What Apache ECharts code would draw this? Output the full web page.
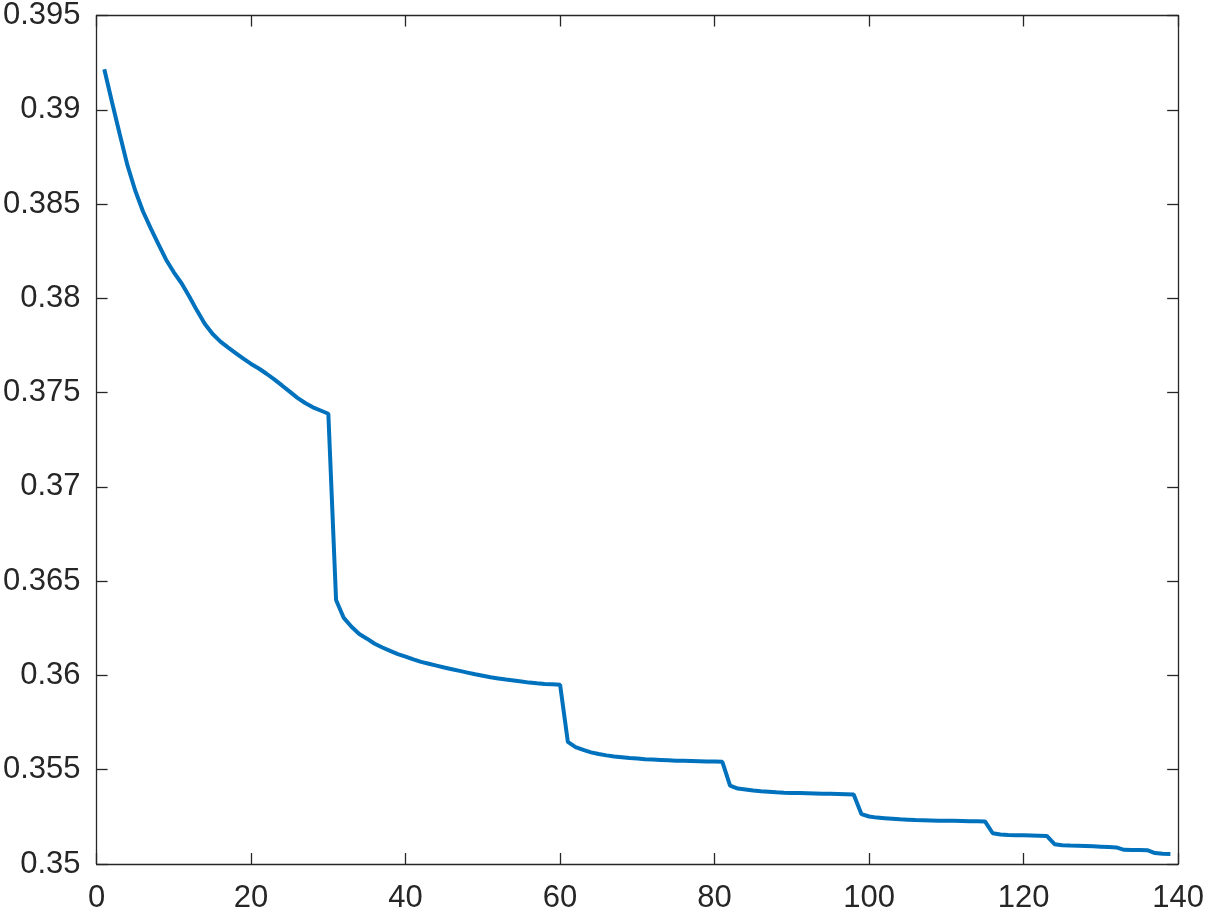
<!DOCTYPE html>
<html>
<head>
<meta charset="utf-8">
<script src="https://cdn.jsdelivr.net/npm/echarts@6/dist/echarts.min.js"></script>
<style>
html,body{margin:0;padding:0;background:#fff;}
#chart{width:1207px;height:914px;}
</style>
</head>
<body>
<div id="chart"></div>
<script>
// Iteration index (x values)
const xValues = [
  1,2,3,4,5,6,7,8,9,10,
  11,12,13,14,15,16,17,18,19,20,
  21,22,23,24,25,26,27,28,29,30,
  31,32,33,34,35,36,37,38,39,40,
  41,42,43,44,45,46,47,48,49,50,
  51,52,53,54,55,56,57,58,59,60,
  61,62,63,64,65,66,67,68,69,70,
  71,72,73,74,75,76,77,78,79,80,
  81,82,83,84,85,86,87,88,89,90,
  91,92,93,94,95,96,97,98,99,100,
  101,102,103,104,105,106,107,108,109,110,
  111,112,113,114,115,116,117,118,119,120,
  121,122,123,124,125,126,127,128,129,130,
  131,132,133,134,135,136,137,138,139
];
// Objective values
const yValues = [
  0.39215,0.39040,0.38870,0.38705,0.38572,0.38462,0.38372,0.38288,0.38205,0.38138,
  0.38080,0.38010,0.37935,0.37865,0.37812,0.37772,0.37740,0.37710,0.37680,0.37652,
  0.37628,0.37600,0.37570,0.37538,0.37505,0.37472,0.37445,0.37422,0.37405,0.37388,
  0.36400,0.36305,0.36258,0.36220,0.36195,0.36168,0.36148,0.36130,0.36113,0.36100,
  0.36085,0.36072,0.36062,0.36052,0.36042,0.36033,0.36024,0.36015,0.36006,0.35998,
  0.35990,0.35984,0.35978,0.35973,0.35968,0.35962,0.35958,0.35955,0.35953,0.35951,
  0.35648,0.35620,0.35605,0.35592,0.35583,0.35576,0.35570,0.35566,0.35562,0.35559,
  0.35556,0.35554,0.35552,0.35550,0.35548,0.35547,0.35546,0.35545,0.35544,0.35543,
  0.35542,0.35416,0.35400,0.35395,0.35390,0.35386,0.35383,0.35380,0.35378,0.35377,
  0.35376,0.35375,0.35374,0.35373,0.35372,0.35371,0.35370,0.35368,0.35265,0.35252,
  0.35246,0.35243,0.35240,0.35237,0.35235,0.35233,0.35232,0.35231,0.35230,0.35229,
  0.35229,0.35228,0.35227,0.35227,0.35226,0.35163,0.35156,0.35154,0.35153,0.35152,
  0.35151,0.35150,0.35149,0.35105,0.35100,0.35098,0.35097,0.35096,0.35094,0.35092,
  0.35090,0.35088,0.35075,0.35074,0.35074,0.35073,0.35058,0.35054,0.35053
];
// Axis ticks
const xTicks = [0,20,40,60,80,100,120,140];
const yTicks = [0.35,0.355,0.36,0.365,0.37,0.375,0.38,0.385,0.39,0.395];

const seriesData = xValues.map((x, i) => [x, yValues[i]]);
const axisColor = '#262626';
const fontFam = '"Liberation Sans", Arial, Helvetica, sans-serif';
const fontSize = 31;

const chart = echarts.init(document.getElementById('chart'), null, {renderer: 'canvas'});
const fmtY = v => parseFloat(Number(v).toFixed(3)).toString();

const xBase = {
  type: 'value',
  min: xTicks[0],
  max: xTicks[xTicks.length - 1],
  interval: xTicks[1] - xTicks[0],
  splitLine: {show: false},
  axisLine: {show: true, onZero: false, lineStyle: {color: axisColor, width: 1.3}},
  axisTick: {show: true, inside: true, length: 11, lineStyle: {color: axisColor, width: 1.3}}
};
const yBase = {
  type: 'value',
  min: yTicks[0],
  max: yTicks[yTicks.length - 1],
  interval: 0.005,
  splitLine: {show: false},
  axisLine: {show: true, onZero: false, lineStyle: {color: axisColor, width: 1.3}},
  axisTick: {show: true, inside: true, length: 11, lineStyle: {color: axisColor, width: 1.3}}
};

chart.setOption({
  animation: false,
  backgroundColor: '#ffffff',
  grid: {left: 96, right: 26, top: 10, bottom: 49, containLabel: false},
  xAxis: [
    Object.assign({}, xBase, {
      position: 'bottom',
      axisLabel: {show: true, color: axisColor, fontSize: fontSize, fontFamily: fontFam, margin: 19}
    }),
    Object.assign({}, xBase, {
      position: 'top',
      axisLabel: {show: false}
    })
  ],
  yAxis: [
    Object.assign({}, yBase, {
      position: 'left',
      axisLabel: {show: true, color: axisColor, fontSize: fontSize, fontFamily: fontFam, margin: 16, formatter: fmtY}
    }),
    Object.assign({}, yBase, {
      position: 'right',
      axisLabel: {show: false}
    })
  ],
  series: [{
    type: 'line',
    data: seriesData,
    xAxisIndex: 0,
    yAxisIndex: 0,
    showSymbol: false,
    symbol: 'none',
    lineStyle: {color: '#0072BD', width: 4},
    itemStyle: {color: '#0072BD'}
  }]
});
</script>
</body>
</html>
